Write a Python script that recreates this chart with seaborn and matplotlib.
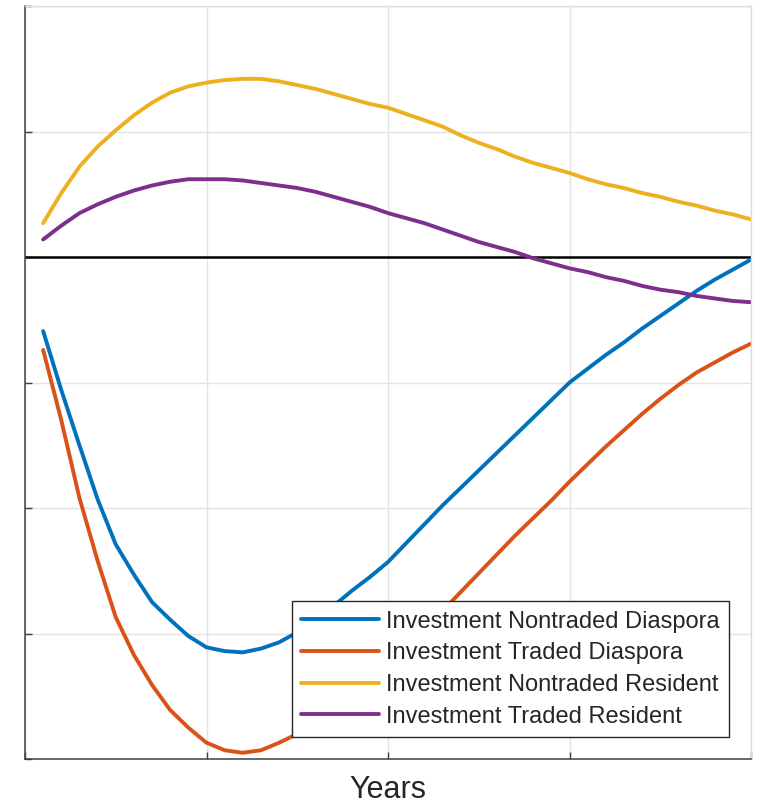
import pandas as pd
import seaborn as sns
import matplotlib.pyplot as plt


# values (one point per year)
years = list(range(1, 41))

nontraded_diaspora = [
    -0.59, -1.06, -1.50, -1.93, -2.29, -2.53, -2.75, -2.89, -3.02, -3.11,
    -3.14, -3.15, -3.12, -3.07, -2.99, -2.89, -2.78, -2.66, -2.55, -2.43,
    -2.28, -2.13, -1.98, -1.84, -1.70, -1.56, -1.42, -1.28, -1.14, -1.00,
    -0.89, -0.78, -0.68, -0.57, -0.47, -0.37, -0.27, -0.18, -0.10, -0.02,
]
traded_diaspora = [
    -0.74, -1.30, -1.92, -2.42, -2.87, -3.17, -3.41, -3.61, -3.75, -3.87,
    -3.93, -3.95, -3.93, -3.87, -3.80, -3.72, -3.63, -3.52, -3.40, -3.27,
    -3.13, -2.98, -2.82, -2.67, -2.52, -2.37, -2.22, -2.08, -1.94, -1.79,
    -1.65, -1.51, -1.38, -1.25, -1.13, -1.02, -0.92, -0.84, -0.76, -0.69,
]
nontraded_resident = [
    0.27, 0.51, 0.72, 0.88, 1.01, 1.13, 1.23, 1.31, 1.36, 1.39,
    1.41, 1.42, 1.42, 1.40, 1.37, 1.34, 1.30, 1.26, 1.22, 1.19,
    1.14, 1.09, 1.04, 0.97, 0.91, 0.86, 0.80, 0.75, 0.71, 0.67,
    0.62, 0.58, 0.55, 0.51, 0.48, 0.44, 0.41, 0.37, 0.34, 0.30,
]
traded_resident = [
    0.14, 0.25, 0.35, 0.42, 0.48, 0.53, 0.57, 0.60, 0.62, 0.62,
    0.62, 0.61, 0.59, 0.57, 0.55, 0.52, 0.48, 0.44, 0.40, 0.35,
    0.31, 0.27, 0.22, 0.17, 0.12, 0.08, 0.04, -0.01, -0.05, -0.09,
    -0.12, -0.16, -0.19, -0.23, -0.26, -0.28, -0.31, -0.33, -0.35, -0.36,
]

labels = [
    "Investment Nontraded Diaspora",
    "Investment Traded Diaspora",
    "Investment Nontraded Resident",
    "Investment Traded Resident",
]
colors = ["#0072BD", "#D95319", "#EDB120", "#7E2F8E"]

x_ticks = [0, 10, 20, 30, 40]
y_ticks = [-4, -3, -2, -1, 0, 1, 2]


def build_frame():
    wide = pd.DataFrame({
        "Years": years,
        labels[0]: nontraded_diaspora,
        labels[1]: traded_diaspora,
        labels[2]: nontraded_resident,
        labels[3]: traded_resident,
    })
    return wide.melt(id_vars="Years", var_name="series", value_name="value")


def plotting(data):
    sns.set_style("white")
    plt.rcParams["font.family"] = ["Liberation Sans", "DejaVu Sans"]

    fig = plt.figure(figsize=(7.62, 8.05), dpi=100)
    ax = fig.add_axes([0.0328, 0.0571, 0.9528, 0.9354])

    # zero line under the curves
    ax.axhline(0, color="black", linewidth=1.8, zorder=1)

    sns.lineplot(data=data, x="Years", y="value", hue="series",
                 hue_order=labels, palette=colors, linewidth=2.8,
                 ax=ax, zorder=2)
    for line in ax.get_lines()[1:]:
        line.set_solid_joinstyle("round")
        line.set_solid_capstyle("round")

    ax.set_xlim(0, 40)
    ax.set_ylim(-4, 2)
    ax.set_xticks(x_ticks)
    ax.set_yticks(y_ticks)
    ax.set_xticklabels([])
    ax.set_yticklabels([])
    ax.tick_params(direction="in", length=5, width=1, color="#404040",
                   left=True, bottom=True)
    ax.grid(True, color="#e3e3e3", linewidth=1)
    ax.set_axisbelow(True)

    for side in ["left", "bottom"]:
        ax.spines[side].set_color("#404040")
        ax.spines[side].set_linewidth(1.1)
    for side in ["top", "right"]:
        ax.spines[side].set_color("#dcdcdc")
        ax.spines[side].set_linewidth(1.0)

    ax.set_xlabel("Years", fontsize=22, color="#262626", labelpad=8)
    ax.set_ylabel("")

    handles, names = ax.get_legend_handles_labels()
    leg = ax.legend(handles, names, loc="lower right",
                    bbox_to_anchor=(0.9697, 0.0292), borderaxespad=0,
                    fontsize=17, handlelength=3.3, handletextpad=0.3,
                    labelspacing=0.41, borderpad=0.4,
                    fancybox=False, framealpha=1, edgecolor="#262626")
    leg.get_frame().set_linewidth(1.0)
    for line in leg.get_lines():
        line.set_linewidth(2.8)

    fig.savefig("out.png", dpi=100)


if __name__ == "__main__":
    data = build_frame()
    plotting(data)
